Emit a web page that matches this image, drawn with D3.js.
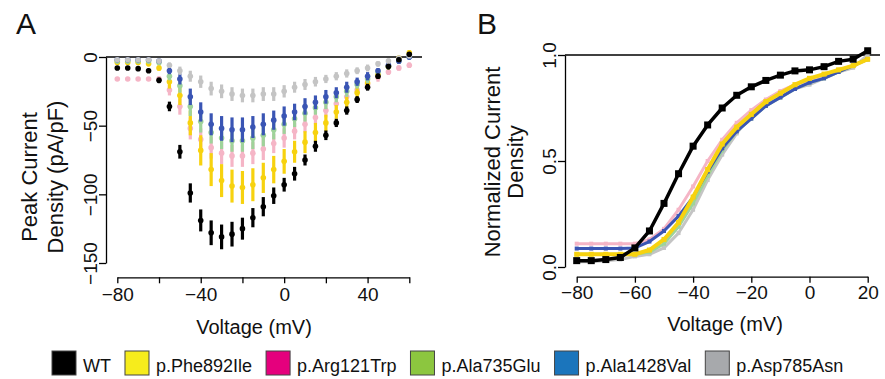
<html>
<head>
<meta charset="utf-8">
<script src="https://cdn.jsdelivr.net/npm/d3@7"></script>
<style>
  body{margin:0;background:#fff;}
  text{font-family:"Liberation Sans",Arial,sans-serif;}
</style>
</head>
<body>
<div id="chart"></div>
<script>
// ---- data ----
var voltsA = [-80,-75,-70,-65,-60,-55,-50,-45,-40,-35,-30,-25,-20,-15,-10,-5,0,5,10,15,20,25,30,35,40,45,50,55,60];
// panel A: peak current density (pA/pF), mean and error
var wtA    = [-8,-8,-8.5,-10,-17,-36,-69,-99,-119,-128,-131,-129,-125,-117,-109,-101,-93,-85,-75,-65,-57,-48,-39,-31,-22,-14,-7,-2,2];
var wtAe   = [1,1,1,1.5,2,3.5,5,7,8,9,9,9,8,7,7,6,5,5,4,4,3.5,3,3,2.5,2.5,2,2,1.5,1.5];
var pheA   = [-4,-4,-4,-5,-8,-18,-28,-48,-68,-82,-90,-94,-95,-93,-88,-82,-76,-69,-62,-55,-48,-40,-33,-26,-19,-13,-7,-1,3];
var pheAe  = [1,1,1,1,2,5,7,9,11,12,12,12,12,12,11,10,9,8,8,7,6,5,4,4,3,3,2,2,2];
var argA   = [-16,-16,-16,-16,-16,-24,-36,-52,-60,-66,-70,-72,-72,-70,-67,-63,-59,-54,-49,-44,-39,-34,-29,-24,-20,-15,-11,-8,-6];
var argAe  = [1.5,1.5,1.5,1.5,2,4,6,8,8,8,8,8,8,8,8,7,7,6,6,5,5,4,4,3,3,3,2,2,2];
var gluA   = [-3,-3,-3,-3,-4,-14,-21,-36,-47,-55,-59,-61,-61,-59,-57,-53,-49,-45,-41,-37,-33,-29,-25,-20,-16,-11,-7,-3,0];
var gluAe  = [1,1,1,1,1.5,3,5,7,8,8,8,8,8,8,8,7,7,6,6,5,5,4,4,3,3,2,2,2,2];
var valA   = [-2,-2,-2,-2,-3,-10,-16,-29,-40,-49,-52,-53,-53,-51,-49,-46,-43,-40,-36,-33,-29,-26,-22,-18,-14,-10,-6,-3,0];
var valAe  = [1,1,1,1,1.5,2.5,4,6,7,8,9,9,9,8,8,7,7,6,6,5,5,4,4,3,3,2,2,2,2];
var aspA   = [-2,-2,-2,-2,-3,-6,-10,-14,-18,-23,-25,-27,-28,-28,-27,-27,-25,-22,-20,-18,-16,-14,-12,-10,-8,-5,-3,-1,1];
var aspAe  = [1,1,1,1,1.5,2,3,4,4.5,5,5,5,5,5,5,5,4.5,4,4,3.5,3,3,3,2.5,2.5,2,2,2,2];

// panel B: normalized current density
var voltsB = [-80,-75,-70,-65,-60,-55,-50,-45,-40,-35,-30,-25,-20,-15,-10,-5,0,5,10,15,20];
var wtB    = [0.03,0.03,0.035,0.045,0.09,0.17,0.30,0.44,0.57,0.67,0.75,0.81,0.85,0.88,0.905,0.925,0.93,0.945,0.97,0.98,1.02];
var pheB   = [0.06,0.06,0.06,0.06,0.06,0.08,0.13,0.21,0.33,0.46,0.58,0.66,0.72,0.78,0.82,0.86,0.89,0.91,0.93,0.95,0.98];
var argB   = [0.11,0.11,0.11,0.11,0.11,0.13,0.18,0.27,0.38,0.50,0.60,0.68,0.74,0.79,0.83,0.86,0.88,0.90,0.93,0.95,0.98];
var gluB   = [0.06,0.06,0.06,0.06,0.06,0.07,0.11,0.19,0.30,0.43,0.55,0.64,0.70,0.76,0.80,0.84,0.87,0.89,0.92,0.95,0.98];
var valB   = [0.087,0.087,0.087,0.087,0.09,0.12,0.17,0.24,0.33,0.45,0.56,0.64,0.70,0.76,0.80,0.84,0.87,0.89,0.92,0.95,0.98];
var aspB   = [0.025,0.025,0.03,0.035,0.05,0.06,0.09,0.16,0.27,0.41,0.53,0.63,0.72,0.77,0.80,0.84,0.86,0.89,0.92,0.94,1.0];

var names       = ["WT","p.Phe892Ile","p.Arg121Trp","p.Ala735Glu","p.Ala1428Val","p.Asp785Asn"];
var legendCols  = ["#000000","#f6ec1c","#e5007d","#8cc63f","#1b75bc","#a7a9ac"];
var plotCols    = ["#000000","#f7d20f","#f5b5c6","#9fd39a","#3a55b4","#c4c4c4"];

var ticksAx = [-80,-60,-40,-20,0,20,40,60];
var labelsAx = [-80,-40,0,40];
var ticksAy = [0,-50,-100,-150];
var ticksBx = [-80,-60,-40,-20,0,20];
var ticksBy = [0,0.5,1];

// ---- svg ----
var svg = d3.select("#chart").append("svg")
  .attr("width",885).attr("height",379);
svg.append("rect").attr("width",885).attr("height",379).attr("fill","#fff");

var fmt = d3.format("");

// ================= panel A =================
var xA = d3.scaleLinear().domain([-80,60]).range([117.3,409.3]);
var yA = d3.scaleLinear().domain([-150,0]).range([263,57]);
var axisXA = 106, axisYA = 277.3;

svg.append("line").attr("x1",axisXA).attr("x2",422)
  .attr("y1",yA(0)).attr("y2",yA(0)).attr("stroke","#000").attr("stroke-width",1.3);

// draw order: pink, yellow, green, blue, gray, black
var seriesA = [
  {v:argA, e:argAe, c:plotCols[2]},
  {v:pheA, e:pheAe, c:plotCols[1]},
  {v:gluA, e:gluAe, c:plotCols[3]},
  {v:valA, e:valAe, c:plotCols[4]},
  {v:aspA, e:aspAe, c:plotCols[5]},
  {v:wtA,  e:wtAe,  c:plotCols[0]}
];
seriesA.forEach(function(s){
  var g = svg.append("g");
  var pts = voltsA.map(function(d,i){ return {x:d, y:s.v[i], e:s.e[i]}; });
  g.selectAll("line").data(pts).enter().append("line")
    .attr("x1",function(d){return xA(d.x)}).attr("x2",function(d){return xA(d.x)})
    .attr("y1",function(d){return yA(d.y+d.e)}).attr("y2",function(d){return yA(d.y-d.e)})
    .attr("stroke",s.c).attr("stroke-width",3.2);
  g.selectAll("circle").data(pts).enter().append("circle")
    .attr("cx",function(d){return xA(d.x)}).attr("cy",function(d){return yA(d.y)})
    .attr("r",2.8).attr("fill",s.c);
});

var gxA = svg.append("g").attr("transform","translate(0,"+axisYA+")")
  .call(d3.axisBottom(xA).tickValues(ticksAx).tickSize(6).tickSizeOuter(0).tickPadding(4)
    .tickFormat(function(d){ return labelsAx.indexOf(d)>=0 ? fmt(d) : ""; }));
var gyA = svg.append("g").attr("transform","translate("+axisXA+",0)")
  .call(d3.axisLeft(yA).tickValues(ticksAy).tickSize(7).tickSizeOuter(0).tickFormat(fmt));
gyA.selectAll(".tick text").attr("transform","rotate(-90)")
  .attr("x",0).attr("y",-9).attr("dy",0).attr("text-anchor","middle");

// ================= panel B =================
var xB = d3.scaleLinear().domain([-80,20]).range([576.7,867.7]);
var yB = d3.scaleLinear().domain([0,1]).range([267,55]);
var axisXB = 565, axisYB = 276.7;

svg.append("line").attr("x1",axisXB).attr("x2",880)
  .attr("y1",yB(1)).attr("y2",yB(1)).attr("stroke","#000").attr("stroke-width",1.3);

var seriesB = [
  {v:aspB, c:plotCols[5], w:3, m:4},
  {v:argB, c:plotCols[2], w:3, m:4},
  {v:gluB, c:plotCols[3], w:3, m:4},
  {v:valB, c:plotCols[4], w:3, m:4},
  {v:pheB, c:plotCols[1], w:4, m:5},
  {v:wtB,  c:plotCols[0], w:3.5, m:7}
];
var lineB = d3.line().x(function(d){return xB(d[0])}).y(function(d){return yB(d[1])});
seriesB.forEach(function(s){
  var pts = voltsB.map(function(d,i){ return [d, s.v[i]]; });
  var g = svg.append("g");
  g.append("path").datum(pts).attr("d",lineB).attr("fill","none")
    .attr("stroke",s.c).attr("stroke-width",s.w).attr("stroke-linejoin","round");
  g.selectAll("rect").data(pts).enter().append("rect")
    .attr("x",function(d){return xB(d[0])-s.m/2}).attr("y",function(d){return yB(d[1])-s.m/2})
    .attr("width",s.m).attr("height",s.m).attr("fill",s.c);
});

var gxB = svg.append("g").attr("transform","translate(0,"+axisYB+")")
  .call(d3.axisBottom(xB).tickValues(ticksBx).tickSize(6).tickSizeOuter(0).tickPadding(3).tickFormat(fmt));
var gyB = svg.append("g").attr("transform","translate("+axisXB+",0)")
  .call(d3.axisLeft(yB).tickValues(ticksBy).tickSize(7).tickSizeOuter(0).tickFormat(d3.format(".1f")));
gyB.selectAll(".tick text").attr("transform","rotate(-90)")
  .attr("x",0).attr("y",-9).attr("dy",0).attr("text-anchor","middle");

// axis styling
svg.selectAll(".domain").attr("stroke","#000").attr("stroke-width",1.3);
svg.selectAll(".tick line").attr("stroke","#000").attr("stroke-width",1.3);
svg.selectAll(".tick text").attr("font-size",19).attr("fill","#111")
  .attr("font-family","'Liberation Sans',Arial,sans-serif");

// ---- titles & labels ----
function label(x,y,txt,size,rot){
  svg.append("text").attr("transform","translate("+x+","+y+")"+(rot?" rotate(-90)":""))
    .attr("text-anchor","middle")
    .attr("font-size",size).attr("fill","#111").text(txt);
}
svg.append("text").attr("x",16).attr("y",34).attr("font-size",30).attr("fill","#111").text("A");
svg.append("text").attr("x",477).attr("y",34).attr("font-size",30).attr("fill","#111").text("B");
label(37,177,"Peak Current",22,true);
label(63,177,"Density (pA/pF)",22,true);
label(500,162,"Normalized Current",22,true);
label(523,162,"Density",22,true);
label(254,334,"Voltage (mV)",20,false);
label(725,331,"Voltage (mV)",20,false);

// ---- legend ----
var lg = svg.append("g");
var lx = 52;
names.forEach(function(n,i){
  lg.append("rect").attr("x",lx).attr("y",351).attr("width",24).attr("height",24)
    .attr("fill",legendCols[i]).attr("stroke","#444").attr("stroke-width",1);
  var t = lg.append("text").attr("x",lx+31).attr("y",372).attr("font-size",18)
    .attr("fill","#111").text(n);
  lx += 31 + t.node().getComputedTextLength() + 14;
});
</script>
</body>
</html>
